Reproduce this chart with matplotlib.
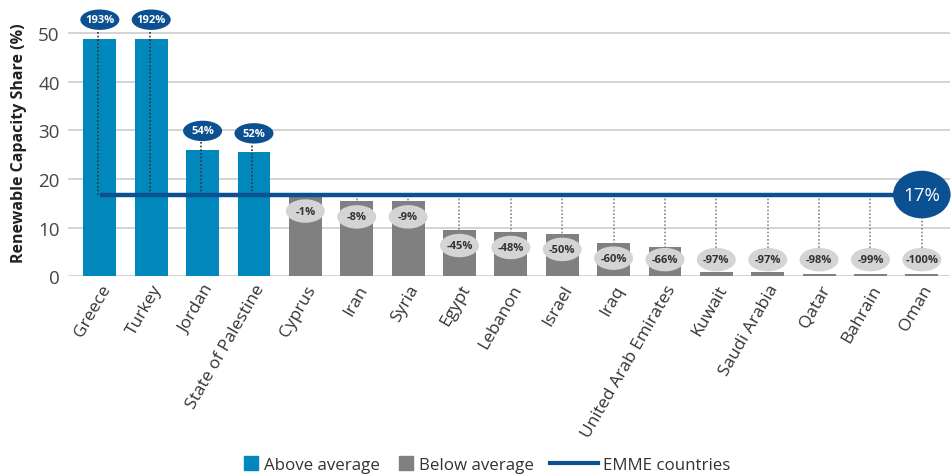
import matplotlib
matplotlib.use("Agg")
import matplotlib.pyplot as plt
from matplotlib.patches import Ellipse
from matplotlib.lines import Line2D

countries = ["Greece", "Turkey", "Jordan", "State of Palestine", "Cyprus", "Iran",
             "Syria", "Egypt", "Lebanon", "Israel", "Iraq", "United Arab Emirates",
             "Kuwait", "Saudi Arabia", "Qatar", "Bahrain", "Oman"]
share = [48.9, 48.9, 26.0, 25.5, 16.6, 15.4, 15.4, 9.5, 9.1, 8.7, 6.9, 5.9,
         0.8, 0.8, 0.4, 0.4, 0.4]
deviation = ["193%", "192%", "54%", "52%", "-1%", "-8%", "-9%", "-45%", "-48%",
             "-50%", "-60%", "-66%", "-97%", "-97%", "-98%", "-99%", "-100%"]
emme_avg = 16.8
avg_label = "17%"

BLUE = "#0088bd"
GREY = "#808080"
NAVY = "#0b5090"
LIGHT = "#d4d4d4"

plt.rcParams["font.family"] = ["Open Sans", "DejaVu Sans"]

fig = plt.figure(figsize=(9.51, 4.77), dpi=100)
ax = fig.add_axes([0.0715, 0.419, 0.927, 0.56])

x = list(range(len(countries)))
colors = [BLUE if v > emme_avg else GREY for v in share]
ax.bar(x, share, width=0.64, color=colors, zorder=2)

ax.set_xlim(-0.62, 16.54)
ax.set_ylim(0, 55)
ax.set_yticks([0, 10, 20, 30, 40, 50])
ax.tick_params(axis="y", labelsize=13.5, colors="#444444", length=0, pad=6)
ax.tick_params(axis="x", length=0, pad=4)
ax.set_xticks(x)
ax.set_xticklabels(countries, rotation=60, ha="right", rotation_mode="anchor",
                   fontsize=12.5, color="#333333")
ax.grid(axis="y", color="#c8c8c8", linewidth=1.1, zorder=0)
for s in ax.spines.values():
    s.set_visible(False)
ax.set_ylabel("Renewable Capacity Share (%)", fontsize=11.5, fontweight="bold",
              color="#222222", labelpad=8)

# EMME average line
ax.plot([0, 16.1], [emme_avg, emme_avg], color=NAVY, linewidth=3.2,
        solid_capstyle="butt", zorder=4)

ew, eh = 0.76, 4.2
for i, (v, lab) in enumerate(zip(share, deviation)):
    if v > emme_avg:
        ly = v + 3.9
        ax.plot([i - 0.03, i - 0.03], [emme_avg, ly - eh / 2], color="#333333",
                linestyle=(0, (1, 1.2)), linewidth=1.2, zorder=3)
        ax.add_patch(Ellipse((i, ly), ew, eh, facecolor=NAVY, edgecolor="none", zorder=5))
        ax.text(i, ly, lab, ha="center", va="center", fontsize=8,
                fontweight="bold", color="white", zorder=6)
    else:
        ly = max(v - 3.2, 3.4)
        ax.plot([i, i], [emme_avg, max(v, ly)], color="#888888",
                linestyle=(0, (1, 1.2)), linewidth=1.2, zorder=3)
        ax.add_patch(Ellipse((i, ly), ew, eh * 1.15, facecolor=LIGHT, edgecolor="none", zorder=5))
        ax.text(i, ly, lab, ha="center", va="center", fontsize=8,
                fontweight="bold", color="#333333", zorder=6)

# Average value badge
ax.add_patch(Ellipse((16.0, emme_avg), 1.12, 9.8, facecolor=NAVY,
                     edgecolor="none", zorder=5, clip_on=False))
ax.text(16.0, emme_avg, avg_label, ha="center", va="center", fontsize=13.5,
        color="white", zorder=6)

# Legend: square swatches for the bars, a longer stroke for the average line
sq = dict(marker="s", linestyle="none", markersize=10)
leg1 = fig.legend([Line2D([0], [0], color=BLUE, **sq), Line2D([0], [0], color=GREY, **sq)],
                  ["Above average", "Below average"], loc="center",
                  bbox_to_anchor=(0.4096, 0.023), ncol=2, frameon=False, fontsize=12.2,
                  handlelength=0.7, handletextpad=0.4, columnspacing=1.2,
                  labelcolor="#333333")
leg2 = fig.legend([Line2D([0], [0], color=NAVY, linewidth=3)], ["EMME countries"],
                  loc="center", bbox_to_anchor=(0.673, 0.023), frameon=False,
                  fontsize=12.2, handlelength=2.8, handletextpad=0.3,
                  labelcolor="#333333")

fig.savefig("out.png", dpi=100)
